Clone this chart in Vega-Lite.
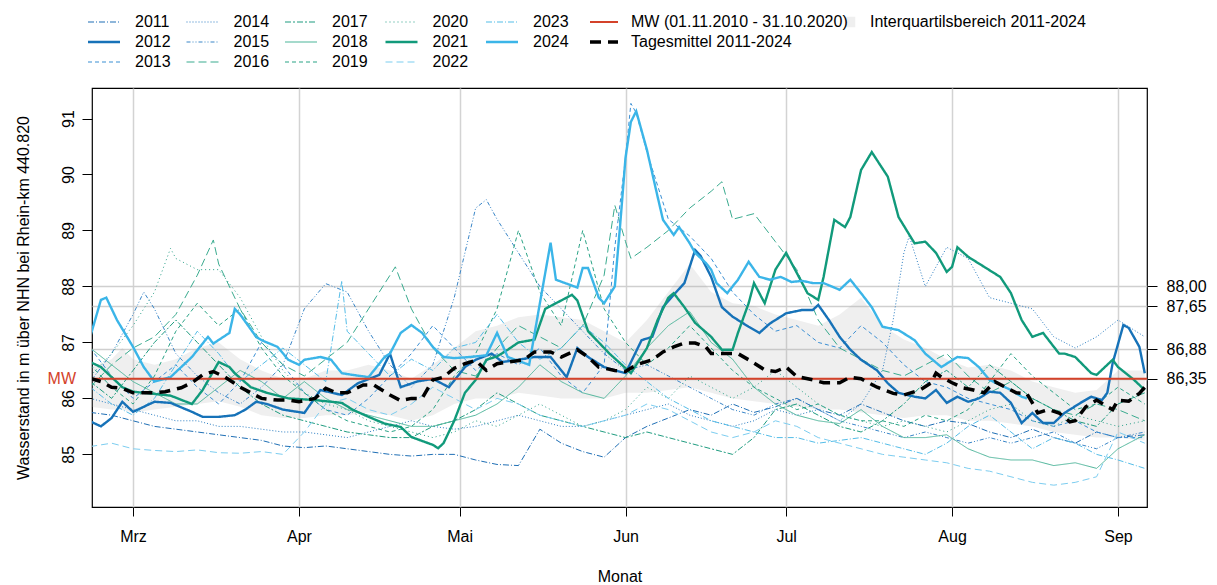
{
"$schema":"https://vega.github.io/schema/vega-lite/v6.json",
"width":1055,"height":419,
"autosize":{"type":"none"},
"padding":{"left":92,"top":88,"right":70,"bottom":78},
"background":"white",
"config":{
 "font":"Liberation Sans",
 "view":{"stroke":"#000","strokeWidth":1.2},
 "axis":{"labelFont":"Liberation Sans","titleFont":"Liberation Sans","labelFontSize":16,"titleFontSize":16,"titleFontWeight":"normal","labelColor":"#000","titleColor":"#000","tickColor":"#000","domain":false,"labelFlush":false},
 "legend":{"labelFont":"Liberation Sans","labelFontSize":16,"labelColor":"#000","padding":0,"labelLimit":400}
},
"datasets":{
"one":[{}],
"thin":[
{"d":"2023-02-21","2011":85.75,"2013":86.9,"2014":86.0,"2015":86.3,"2016":86.2,"2017":86.3,"2018":86.9,"2019":86.6,"2020":86.4,"2022":85.14,"2023":86.2},
{"d":"2023-02-25","2011":85.7,"2013":86.4,"2014":85.9,"2015":86.8,"2016":86.6,"2017":86.0,"2018":86.6,"2019":86.2,"2020":86.8,"2022":85.2,"2023":85.9},
{"d":"2023-03-01","2011":85.6,"2013":86.0,"2014":85.8,"2015":87.5,"2016":86.9,"2017":86.5,"2018":86.3,"2019":85.9,"2020":87.3,"2022":85.1,"2023":85.7},
{"d":"2023-03-03","2015":87.9},
{"d":"2023-03-05","2011":85.5,"2013":86.3,"2014":85.7,"2015":87.6,"2016":87.1,"2017":87.0,"2018":86.1,"2019":86.4,"2020":87.9,"2022":85.07,"2023":86.0},
{"d":"2023-03-08","2020":88.68},
{"d":"2023-03-09","2011":85.45,"2013":86.6,"2014":85.6,"2015":86.8,"2016":87.5,"2017":87.4,"2018":85.9,"2019":87.2,"2020":88.5,"2022":85.05,"2023":86.6},
{"d":"2023-03-13","2011":85.4,"2013":86.2,"2014":85.6,"2015":86.4,"2016":88.2,"2017":87.0,"2018":85.9,"2019":87.7,"2020":88.3,"2022":85.08,"2023":87.2},
{"d":"2023-03-16","2016":88.83},
{"d":"2023-03-17","2011":85.35,"2013":85.9,"2014":85.5,"2015":86.1,"2016":88.4,"2017":86.6,"2018":86.2,"2019":87.3,"2020":88.3,"2022":85.03,"2023":86.8},
{"d":"2023-03-21","2011":85.3,"2013":86.3,"2014":85.5,"2015":85.9,"2016":87.6,"2017":86.2,"2018":86.5,"2019":87.6,"2020":87.8,"2022":85.02,"2023":86.3},
{"d":"2023-03-25","2011":85.25,"2013":87.0,"2014":85.45,"2015":86.2,"2016":87.0,"2017":85.9,"2018":86.3,"2019":86.9,"2020":87.1,"2022":85.05,"2023":86.6},
{"d":"2023-03-29","2011":85.15,"2013":86.6,"2014":85.4,"2015":86.6,"2016":86.6,"2017":85.7,"2018":86.0,"2019":86.4,"2020":86.5,"2022":85.0,"2023":86.9},
{"d":"2023-04-02","2011":85.12,"2013":86.1,"2014":85.4,"2015":87.6,"2016":86.4,"2017":85.6,"2018":86.3,"2019":86.1,"2020":86.1,"2022":85.4,"2023":86.6},
{"d":"2023-04-06","2011":85.15,"2013":85.8,"2014":85.35,"2015":88.05,"2016":86.7,"2017":85.5,"2018":86.0,"2019":85.8,"2020":85.9,"2022":85.9,"2023":86.3},
{"d":"2023-04-09","2023":88.1},
{"d":"2023-04-10","2011":85.1,"2013":85.7,"2014":85.3,"2015":87.9,"2016":87.0,"2017":85.4,"2018":85.8,"2019":85.6,"2020":85.8,"2022":86.0,"2023":87.2},
{"d":"2023-04-14","2011":85.05,"2013":86.0,"2014":85.4,"2015":87.2,"2016":87.6,"2017":85.35,"2018":85.7,"2019":85.5,"2020":85.6,"2022":85.8,"2023":86.8},
{"d":"2023-04-18","2011":85.0,"2013":86.4,"2014":85.5,"2015":86.6,"2016":88.2,"2017":85.3,"2018":85.6,"2019":85.4,"2020":85.5,"2022":85.7,"2023":86.4},
{"d":"2023-04-19","2016":88.35},
{"d":"2023-04-22","2011":84.97,"2013":86.8,"2014":85.6,"2015":86.2,"2016":87.6,"2017":85.3,"2018":85.5,"2019":85.5,"2020":85.4,"2022":85.9,"2023":86.7},
{"d":"2023-04-26","2011":85.0,"2013":87.3,"2014":85.5,"2015":86.6,"2016":86.9,"2017":85.5,"2018":85.5,"2019":85.8,"2020":85.3,"2022":86.2,"2023":86.5},
{"d":"2023-04-30","2011":85.0,"2013":86.9,"2014":85.45,"2015":87.8,"2016":86.5,"2017":85.6,"2018":85.6,"2019":86.4,"2020":85.4,"2022":86.0,"2023":86.9},
{"d":"2023-05-04","2011":84.9,"2013":86.5,"2014":85.5,"2015":89.4,"2016":86.4,"2017":85.8,"2018":85.7,"2019":86.8,"2020":85.6,"2022":85.8,"2023":87.0},
{"d":"2023-05-06","2015":89.55},
{"d":"2023-05-08","2011":84.82,"2013":86.8,"2014":85.6,"2015":89.2,"2016":86.9,"2017":86.1,"2018":85.9,"2019":87.6,"2020":85.5,"2022":86.0,"2023":87.5},
{"d":"2023-05-12","2011":84.8,"2013":86.6,"2014":85.7,"2015":88.6,"2016":87.3,"2017":85.9,"2018":86.2,"2019":89.0,"2020":85.7,"2022":85.9,"2023":87.0},
{"d":"2023-05-16","2011":85.45,"2013":86.9,"2014":85.6,"2015":88.0,"2016":87.1,"2017":85.7,"2018":86.6,"2019":87.9,"2020":85.9,"2022":85.7,"2023":86.7},
{"d":"2023-05-20","2011":85.2,"2013":86.4,"2014":85.5,"2015":87.6,"2016":86.9,"2017":85.6,"2018":86.3,"2019":87.3,"2020":85.7,"2022":85.6,"2023":86.9},
{"d":"2023-05-24","2011":85.05,"2013":86.1,"2014":85.5,"2015":87.2,"2016":87.3,"2017":85.5,"2018":86.1,"2019":89.0,"2020":85.5,"2022":85.5,"2023":87.3},
{"d":"2023-05-28","2011":84.95,"2013":86.6,"2014":85.6,"2015":86.8,"2016":88.2,"2017":85.4,"2018":86.0,"2019":87.6,"2020":85.6,"2022":85.6,"2023":87.0},
{"d":"2023-05-30","2013":88.7,"2016":89.45},
{"d":"2023-06-01","2011":85.3,"2013":90.3,"2014":85.7,"2015":86.5,"2016":88.8,"2017":85.3,"2018":86.4,"2019":87.0,"2020":85.8,"2022":85.7,"2023":86.6},
{"d":"2023-06-02","2013":91.27,"2016":88.5},
{"d":"2023-06-03","2013":91.1},
{"d":"2023-06-05","2011":85.5,"2013":90.4,"2014":85.8,"2015":86.6,"2016":88.7,"2017":85.4,"2018":86.9,"2019":86.6,"2020":86.2,"2022":85.9,"2023":86.3},
{"d":"2023-06-09","2011":85.65,"2013":89.2,"2014":85.9,"2015":86.4,"2016":89.0,"2017":85.3,"2018":87.3,"2019":86.9,"2020":86.0,"2022":85.8,"2023":86.0},
{"d":"2023-06-13","2011":85.8,"2013":88.9,"2014":85.7,"2015":86.2,"2016":89.4,"2017":85.2,"2018":87.55,"2019":87.3,"2020":86.4,"2022":85.6,"2023":85.8},
{"d":"2023-06-17","2011":85.7,"2013":88.5,"2014":85.6,"2015":86.0,"2016":89.7,"2017":85.1,"2018":87.0,"2019":86.9,"2020":86.2,"2022":85.4,"2023":85.6},
{"d":"2023-06-19","2016":89.87},
{"d":"2023-06-21","2011":85.9,"2013":87.9,"2014":85.5,"2015":85.8,"2016":89.2,"2017":85.0,"2018":86.7,"2019":86.5,"2020":86.0,"2022":85.3,"2023":85.5},
{"d":"2023-06-25","2011":85.75,"2013":87.5,"2014":85.6,"2015":85.7,"2016":89.3,"2017":85.3,"2018":86.2,"2019":86.2,"2020":86.2,"2022":85.4,"2023":85.4},
{"d":"2023-06-29","2011":85.85,"2013":87.2,"2014":85.8,"2015":85.9,"2016":88.8,"2017":85.8,"2018":85.9,"2019":86.0,"2020":86.5,"2022":85.6,"2023":85.3},
{"d":"2023-07-03","2011":86.0,"2013":87.3,"2014":85.7,"2015":86.0,"2016":88.3,"2017":85.9,"2018":85.7,"2019":85.8,"2020":86.2,"2022":85.5,"2023":85.3},
{"d":"2023-07-07","2011":85.8,"2013":87.0,"2014":85.8,"2015":85.8,"2016":87.4,"2017":85.7,"2018":85.6,"2019":85.9,"2020":85.9,"2022":85.3,"2023":85.2},
{"d":"2023-07-11","2011":85.7,"2013":86.9,"2014":85.6,"2015":85.6,"2016":86.9,"2017":85.5,"2018":85.55,"2019":85.7,"2020":85.7,"2022":85.2,"2023":85.25},
{"d":"2023-07-15","2011":85.9,"2013":87.3,"2014":85.9,"2015":85.5,"2016":86.7,"2017":85.4,"2018":85.8,"2019":85.6,"2020":85.6,"2022":85.1,"2023":85.3},
{"d":"2023-07-19","2011":85.75,"2013":87.0,"2014":86.5,"2015":85.4,"2016":86.5,"2017":85.6,"2018":85.5,"2019":85.6,"2020":85.5,"2022":85.0,"2023":85.2},
{"d":"2023-07-21","2014":87.4},
{"d":"2023-07-23","2011":85.6,"2013":86.6,"2014":88.6,"2015":85.3,"2016":86.4,"2017":85.9,"2018":85.3,"2019":85.5,"2020":85.6,"2022":84.95,"2023":85.1},
{"d":"2023-07-24","2014":88.9},
{"d":"2023-07-27","2011":85.5,"2013":86.3,"2014":88.0,"2015":85.4,"2016":86.6,"2017":86.3,"2018":85.3,"2019":85.7,"2020":85.5,"2022":84.9,"2023":85.0},
{"d":"2023-07-31","2011":85.6,"2013":86.2,"2014":88.7,"2015":85.3,"2016":86.8,"2017":86.5,"2018":85.35,"2019":85.6,"2020":85.4,"2022":84.85,"2023":85.2},
{"d":"2023-08-04","2011":85.55,"2013":86.0,"2014":88.5,"2015":85.2,"2016":86.4,"2017":86.2,"2018":85.1,"2019":85.8,"2020":85.6,"2022":84.75,"2023":85.5},
{"d":"2023-08-08","2011":85.4,"2013":85.9,"2014":87.8,"2015":85.3,"2016":86.1,"2017":86.6,"2018":84.95,"2019":86.3,"2020":85.8,"2022":84.7,"2023":85.7},
{"d":"2023-08-12","2011":85.3,"2013":85.8,"2014":87.7,"2015":85.2,"2016":86.3,"2017":86.3,"2018":84.9,"2019":86.8,"2020":85.9,"2022":84.6,"2023":85.4},
{"d":"2023-08-16","2011":85.45,"2013":85.6,"2014":87.6,"2015":85.3,"2016":86.0,"2017":86.0,"2018":84.9,"2019":86.4,"2020":85.6,"2022":84.5,"2023":85.1},
{"d":"2023-08-20","2011":85.3,"2013":85.5,"2014":87.1,"2015":85.4,"2016":85.8,"2017":85.8,"2018":84.8,"2019":86.1,"2020":85.5,"2022":84.45,"2023":85.3},
{"d":"2023-08-24","2011":85.2,"2013":85.6,"2014":86.9,"2015":85.2,"2016":85.7,"2017":85.6,"2018":84.85,"2019":85.8,"2020":85.7,"2022":84.5,"2023":85.2},
{"d":"2023-08-28","2011":85.4,"2013":85.4,"2014":87.1,"2015":85.1,"2016":85.9,"2017":85.5,"2018":84.75,"2019":85.9,"2020":85.6,"2022":84.6,"2023":85.0},
{"d":"2023-09-01","2011":85.3,"2013":85.3,"2014":87.4,"2015":85.3,"2016":85.8,"2017":85.9,"2018":85.1,"2019":86.2,"2020":85.5,"2022":85.4,"2023":84.9},
{"d":"2023-09-06","2011":85.35,"2013":85.3,"2014":87.1,"2015":85.4,"2016":85.6,"2017":86.1,"2018":85.35,"2019":85.9,"2020":85.6,"2022":85.2,"2023":84.75}
],
"thick":[
{"d":"2023-02-21","jahr":"2012","v":85.59},{"d":"2023-02-23","jahr":"2012","v":85.5},{"d":"2023-02-25","jahr":"2012","v":85.65},{"d":"2023-02-27","jahr":"2012","v":85.94},{"d":"2023-03-01","jahr":"2012","v":85.76},{"d":"2023-03-03","jahr":"2012","v":85.85},{"d":"2023-03-05","jahr":"2012","v":85.94},{"d":"2023-03-08","jahr":"2012","v":85.92},{"d":"2023-03-12","jahr":"2012","v":85.76},{"d":"2023-03-14","jahr":"2012","v":85.67},{"d":"2023-03-17","jahr":"2012","v":85.67},{"d":"2023-03-20","jahr":"2012","v":85.7},{"d":"2023-03-22","jahr":"2012","v":85.8},{"d":"2023-03-24","jahr":"2012","v":85.94},{"d":"2023-03-26","jahr":"2012","v":85.9},{"d":"2023-03-29","jahr":"2012","v":85.8},{"d":"2023-04-02","jahr":"2012","v":85.74},{"d":"2023-04-05","jahr":"2012","v":86.15},{"d":"2023-04-09","jahr":"2012","v":86.06},{"d":"2023-04-12","jahr":"2012","v":86.27},{"d":"2023-04-16","jahr":"2012","v":86.42},{"d":"2023-04-18","jahr":"2012","v":86.8},{"d":"2023-04-20","jahr":"2012","v":86.2},{"d":"2023-04-23","jahr":"2012","v":86.3},{"d":"2023-04-26","jahr":"2012","v":86.35},{"d":"2023-04-29","jahr":"2012","v":86.2},{"d":"2023-05-02","jahr":"2012","v":86.56},{"d":"2023-05-04","jahr":"2012","v":86.69},{"d":"2023-05-07","jahr":"2012","v":86.8},{"d":"2023-05-09","jahr":"2012","v":86.65},{"d":"2023-05-12","jahr":"2012","v":86.69},{"d":"2023-05-15","jahr":"2012","v":86.74},{"d":"2023-05-18","jahr":"2012","v":86.74},{"d":"2023-05-21","jahr":"2012","v":86.38},{"d":"2023-05-23","jahr":"2012","v":86.9},{"d":"2023-05-25","jahr":"2012","v":86.74},{"d":"2023-05-28","jahr":"2012","v":86.56},{"d":"2023-05-30","jahr":"2012","v":86.5},{"d":"2023-06-01","jahr":"2012","v":86.45},{"d":"2023-06-04","jahr":"2012","v":87.04},{"d":"2023-06-06","jahr":"2012","v":87.1},{"d":"2023-06-08","jahr":"2012","v":87.63},{"d":"2023-06-10","jahr":"2012","v":87.85},{"d":"2023-06-12","jahr":"2012","v":88.06},{"d":"2023-06-14","jahr":"2012","v":88.65},{"d":"2023-06-15","jahr":"2012","v":88.55},{"d":"2023-06-17","jahr":"2012","v":88.17},{"d":"2023-06-19","jahr":"2012","v":87.63},{"d":"2023-06-21","jahr":"2012","v":87.46},{"d":"2023-06-24","jahr":"2012","v":87.28},{"d":"2023-06-26","jahr":"2012","v":87.17},{"d":"2023-06-28","jahr":"2012","v":87.34},{"d":"2023-07-01","jahr":"2012","v":87.52},{"d":"2023-07-04","jahr":"2012","v":87.58},{"d":"2023-07-06","jahr":"2012","v":87.58},{"d":"2023-07-07","jahr":"2012","v":87.67},{"d":"2023-07-09","jahr":"2012","v":87.4},{"d":"2023-07-11","jahr":"2012","v":87.1},{"d":"2023-07-13","jahr":"2012","v":86.87},{"d":"2023-07-15","jahr":"2012","v":86.69},{"d":"2023-07-18","jahr":"2012","v":86.5},{"d":"2023-07-20","jahr":"2012","v":86.27},{"d":"2023-07-22","jahr":"2012","v":86.1},{"d":"2023-07-25","jahr":"2012","v":86.03},{"d":"2023-07-27","jahr":"2012","v":86.0},{"d":"2023-07-29","jahr":"2012","v":86.15},{"d":"2023-07-31","jahr":"2012","v":85.92},{"d":"2023-08-02","jahr":"2012","v":86.03},{"d":"2023-08-04","jahr":"2012","v":85.94},{"d":"2023-08-06","jahr":"2012","v":86.0},{"d":"2023-08-08","jahr":"2012","v":86.12},{"d":"2023-08-10","jahr":"2012","v":86.1},{"d":"2023-08-12","jahr":"2012","v":85.92},{"d":"2023-08-14","jahr":"2012","v":85.56},{"d":"2023-08-16","jahr":"2012","v":85.74},{"d":"2023-08-18","jahr":"2012","v":85.56},{"d":"2023-08-20","jahr":"2012","v":85.56},{"d":"2023-08-22","jahr":"2012","v":85.74},{"d":"2023-08-25","jahr":"2012","v":85.92},{"d":"2023-08-27","jahr":"2012","v":86.03},{"d":"2023-08-29","jahr":"2012","v":85.97},{"d":"2023-08-30","jahr":"2012","v":86.1},{"d":"2023-08-31","jahr":"2012","v":86.63},{"d":"2023-09-02","jahr":"2012","v":87.31},{"d":"2023-09-03","jahr":"2012","v":87.26},{"d":"2023-09-05","jahr":"2012","v":86.92},{"d":"2023-09-06","jahr":"2012","v":86.45},
{"d":"2023-02-21","jahr":"2021","v":86.65},{"d":"2023-02-23","jahr":"2021","v":86.56},{"d":"2023-02-25","jahr":"2021","v":86.38},{"d":"2023-02-27","jahr":"2021","v":86.2},{"d":"2023-03-01","jahr":"2021","v":86.12},{"d":"2023-03-03","jahr":"2021","v":86.1},{"d":"2023-03-05","jahr":"2021","v":86.08},{"d":"2023-03-08","jahr":"2021","v":86.05},{"d":"2023-03-12","jahr":"2021","v":85.9},{"d":"2023-03-14","jahr":"2021","v":86.15},{"d":"2023-03-17","jahr":"2021","v":86.65},{"d":"2023-03-19","jahr":"2021","v":86.56},{"d":"2023-03-20","jahr":"2021","v":86.45},{"d":"2023-03-23","jahr":"2021","v":86.2},{"d":"2023-03-26","jahr":"2021","v":86.1},{"d":"2023-03-30","jahr":"2021","v":86.0},{"d":"2023-04-04","jahr":"2021","v":85.97},{"d":"2023-04-09","jahr":"2021","v":85.92},{"d":"2023-04-11","jahr":"2021","v":85.8},{"d":"2023-04-14","jahr":"2021","v":85.67},{"d":"2023-04-17","jahr":"2021","v":85.55},{"d":"2023-04-20","jahr":"2021","v":85.49},{"d":"2023-04-22","jahr":"2021","v":85.31},{"d":"2023-04-26","jahr":"2021","v":85.17},{"d":"2023-04-27","jahr":"2021","v":85.11},{"d":"2023-04-28","jahr":"2021","v":85.2},{"d":"2023-04-30","jahr":"2021","v":85.6},{"d":"2023-05-02","jahr":"2021","v":86.1},{"d":"2023-05-04","jahr":"2021","v":86.33},{"d":"2023-05-06","jahr":"2021","v":86.69},{"d":"2023-05-08","jahr":"2021","v":86.75},{"d":"2023-05-10","jahr":"2021","v":86.87},{"d":"2023-05-12","jahr":"2021","v":87.0},{"d":"2023-05-15","jahr":"2021","v":87.05},{"d":"2023-05-17","jahr":"2021","v":87.6},{"d":"2023-05-19","jahr":"2021","v":87.7},{"d":"2023-05-22","jahr":"2021","v":87.85},{"d":"2023-05-23","jahr":"2021","v":87.75},{"d":"2023-05-25","jahr":"2021","v":87.2},{"d":"2023-05-29","jahr":"2021","v":86.8},{"d":"2023-06-01","jahr":"2021","v":86.54},{"d":"2023-06-02","jahr":"2021","v":86.45},{"d":"2023-06-05","jahr":"2021","v":86.9},{"d":"2023-06-07","jahr":"2021","v":87.4},{"d":"2023-06-09","jahr":"2021","v":87.8},{"d":"2023-06-10","jahr":"2021","v":87.88},{"d":"2023-06-12","jahr":"2021","v":87.63},{"d":"2023-06-14","jahr":"2021","v":87.35},{"d":"2023-06-17","jahr":"2021","v":87.1},{"d":"2023-06-19","jahr":"2021","v":86.87},{"d":"2023-06-21","jahr":"2021","v":86.87},{"d":"2023-06-22","jahr":"2021","v":87.17},{"d":"2023-06-24","jahr":"2021","v":87.7},{"d":"2023-06-25","jahr":"2021","v":88.06},{"d":"2023-06-27","jahr":"2021","v":87.7},{"d":"2023-06-29","jahr":"2021","v":88.3},{"d":"2023-07-01","jahr":"2021","v":88.6},{"d":"2023-07-03","jahr":"2021","v":88.24},{"d":"2023-07-05","jahr":"2021","v":87.88},{"d":"2023-07-07","jahr":"2021","v":87.76},{"d":"2023-07-08","jahr":"2021","v":88.17},{"d":"2023-07-10","jahr":"2021","v":89.19},{"d":"2023-07-12","jahr":"2021","v":89.06},{"d":"2023-07-13","jahr":"2021","v":89.24},{"d":"2023-07-15","jahr":"2021","v":90.08},{"d":"2023-07-17","jahr":"2021","v":90.4},{"d":"2023-07-20","jahr":"2021","v":89.96},{"d":"2023-07-22","jahr":"2021","v":89.24},{"d":"2023-07-25","jahr":"2021","v":88.77},{"d":"2023-07-27","jahr":"2021","v":88.8},{"d":"2023-07-29","jahr":"2021","v":88.6},{"d":"2023-07-31","jahr":"2021","v":88.26},{"d":"2023-08-01","jahr":"2021","v":88.35},{"d":"2023-08-02","jahr":"2021","v":88.7},{"d":"2023-08-04","jahr":"2021","v":88.53},{"d":"2023-08-07","jahr":"2021","v":88.35},{"d":"2023-08-10","jahr":"2021","v":88.17},{"d":"2023-08-12","jahr":"2021","v":87.88},{"d":"2023-08-14","jahr":"2021","v":87.4},{"d":"2023-08-16","jahr":"2021","v":87.1},{"d":"2023-08-18","jahr":"2021","v":87.17},{"d":"2023-08-21","jahr":"2021","v":86.8},{"d":"2023-08-22","jahr":"2021","v":86.8},{"d":"2023-08-24","jahr":"2021","v":86.74},{"d":"2023-08-27","jahr":"2021","v":86.45},{"d":"2023-08-28","jahr":"2021","v":86.42},{"d":"2023-08-31","jahr":"2021","v":86.69},{"d":"2023-09-01","jahr":"2021","v":86.56},{"d":"2023-09-04","jahr":"2021","v":86.33},{"d":"2023-09-06","jahr":"2021","v":86.15},
{"d":"2023-02-21","jahr":"2024","v":87.1},{"d":"2023-02-23","jahr":"2024","v":87.76},{"d":"2023-02-24","jahr":"2024","v":87.8},{"d":"2023-02-26","jahr":"2024","v":87.4},{"d":"2023-03-01","jahr":"2024","v":86.92},{"d":"2023-03-03","jahr":"2024","v":86.56},{"d":"2023-03-05","jahr":"2024","v":86.3},{"d":"2023-03-08","jahr":"2024","v":86.38},{"d":"2023-03-12","jahr":"2024","v":86.74},{"d":"2023-03-15","jahr":"2024","v":87.1},{"d":"2023-03-16","jahr":"2024","v":86.98},{"d":"2023-03-19","jahr":"2024","v":87.17},{"d":"2023-03-20","jahr":"2024","v":87.6},{"d":"2023-03-21","jahr":"2024","v":87.5},{"d":"2023-03-24","jahr":"2024","v":87.1},{"d":"2023-03-25","jahr":"2024","v":87.04},{"d":"2023-03-28","jahr":"2024","v":86.92},{"d":"2023-03-30","jahr":"2024","v":86.69},{"d":"2023-04-01","jahr":"2024","v":86.6},{"d":"2023-04-02","jahr":"2024","v":86.69},{"d":"2023-04-05","jahr":"2024","v":86.74},{"d":"2023-04-07","jahr":"2024","v":86.69},{"d":"2023-04-09","jahr":"2024","v":86.45},{"d":"2023-04-11","jahr":"2024","v":86.42},{"d":"2023-04-14","jahr":"2024","v":86.38},{"d":"2023-04-15","jahr":"2024","v":86.5},{"d":"2023-04-17","jahr":"2024","v":86.74},{"d":"2023-04-18","jahr":"2024","v":86.8},{"d":"2023-04-20","jahr":"2024","v":87.17},{"d":"2023-04-22","jahr":"2024","v":87.31},{"d":"2023-04-24","jahr":"2024","v":87.17},{"d":"2023-04-26","jahr":"2024","v":86.92},{"d":"2023-04-28","jahr":"2024","v":86.74},{"d":"2023-04-30","jahr":"2024","v":86.72},{"d":"2023-05-03","jahr":"2024","v":86.74},{"d":"2023-05-06","jahr":"2024","v":86.77},{"d":"2023-05-08","jahr":"2024","v":87.17},{"d":"2023-05-10","jahr":"2024","v":86.74},{"d":"2023-05-14","jahr":"2024","v":86.6},{"d":"2023-05-16","jahr":"2024","v":87.7},{"d":"2023-05-18","jahr":"2024","v":88.78},{"d":"2023-05-19","jahr":"2024","v":88.12},{"d":"2023-05-21","jahr":"2024","v":88.05},{"d":"2023-05-23","jahr":"2024","v":87.98},{"d":"2023-05-24","jahr":"2024","v":88.33},{"d":"2023-05-25","jahr":"2024","v":88.33},{"d":"2023-05-27","jahr":"2024","v":87.8},{"d":"2023-05-28","jahr":"2024","v":87.7},{"d":"2023-05-30","jahr":"2024","v":88.0},{"d":"2023-05-31","jahr":"2024","v":89.1},{"d":"2023-06-01","jahr":"2024","v":90.3},{"d":"2023-06-02","jahr":"2024","v":90.94},{"d":"2023-06-03","jahr":"2024","v":91.13},{"d":"2023-06-05","jahr":"2024","v":90.44},{"d":"2023-06-07","jahr":"2024","v":89.6},{"d":"2023-06-08","jahr":"2024","v":89.19},{"d":"2023-06-10","jahr":"2024","v":88.92},{"d":"2023-06-11","jahr":"2024","v":89.06},{"d":"2023-06-13","jahr":"2024","v":88.77},{"d":"2023-06-14","jahr":"2024","v":88.6},{"d":"2023-06-16","jahr":"2024","v":88.42},{"d":"2023-06-17","jahr":"2024","v":88.3},{"d":"2023-06-18","jahr":"2024","v":88.06},{"d":"2023-06-20","jahr":"2024","v":87.88},{"d":"2023-06-22","jahr":"2024","v":88.12},{"d":"2023-06-24","jahr":"2024","v":88.44},{"d":"2023-06-26","jahr":"2024","v":88.17},{"d":"2023-06-28","jahr":"2024","v":88.12},{"d":"2023-06-30","jahr":"2024","v":88.17},{"d":"2023-07-02","jahr":"2024","v":88.08},{"d":"2023-07-04","jahr":"2024","v":88.1},{"d":"2023-07-06","jahr":"2024","v":88.06},{"d":"2023-07-08","jahr":"2024","v":88.06},{"d":"2023-07-11","jahr":"2024","v":87.94},{"d":"2023-07-13","jahr":"2024","v":88.12},{"d":"2023-07-15","jahr":"2024","v":87.88},{"d":"2023-07-17","jahr":"2024","v":87.63},{"d":"2023-07-19","jahr":"2024","v":87.28},{"d":"2023-07-22","jahr":"2024","v":87.22},{"d":"2023-07-25","jahr":"2024","v":87.04},{"d":"2023-07-27","jahr":"2024","v":86.8},{"d":"2023-07-30","jahr":"2024","v":86.56},{"d":"2023-08-02","jahr":"2024","v":86.74},{"d":"2023-08-04","jahr":"2024","v":86.72},{"d":"2023-08-06","jahr":"2024","v":86.56},{"d":"2023-08-08","jahr":"2024","v":86.33},{"d":"2023-08-10","jahr":"2024","v":86.24},{"d":"2023-08-12","jahr":"2024","v":86.15},{"d":"2023-08-14","jahr":"2024","v":86.03},{"d":"2023-08-15","jahr":"2024","v":86.0}
],
"iqr":[
{"d":"2023-02-21","lo":85.85,"hi":86.55},{"d":"2023-02-25","lo":85.8,"hi":86.7},{"d":"2023-02-27","lo":85.8,"hi":86.9},{"d":"2023-03-01","lo":85.75,"hi":86.7},{"d":"2023-03-05","lo":85.8,"hi":86.6},{"d":"2023-03-09","lo":85.85,"hi":86.7},{"d":"2023-03-13","lo":85.9,"hi":86.9},{"d":"2023-03-17","lo":85.95,"hi":87.0},{"d":"2023-03-21","lo":85.85,"hi":86.7},{"d":"2023-03-25","lo":85.7,"hi":86.5},{"d":"2023-03-29","lo":85.65,"hi":86.35},{"d":"2023-04-02","lo":85.65,"hi":86.35},{"d":"2023-04-06","lo":85.7,"hi":86.5},{"d":"2023-04-10","lo":85.7,"hi":86.5},{"d":"2023-04-14","lo":85.75,"hi":86.6},{"d":"2023-04-18","lo":85.7,"hi":86.5},{"d":"2023-04-22","lo":85.6,"hi":86.35},{"d":"2023-04-26","lo":85.7,"hi":86.6},{"d":"2023-04-30","lo":85.9,"hi":86.9},{"d":"2023-05-04","lo":86.0,"hi":87.2},{"d":"2023-05-08","lo":86.0,"hi":87.3},{"d":"2023-05-12","lo":86.1,"hi":87.45},{"d":"2023-05-16","lo":86.05,"hi":87.5},{"d":"2023-05-20","lo":86.0,"hi":87.45},{"d":"2023-05-24","lo":86.0,"hi":87.4},{"d":"2023-05-28","lo":86.0,"hi":87.2},{"d":"2023-06-01","lo":86.1,"hi":87.0},{"d":"2023-06-05","lo":86.1,"hi":87.4},{"d":"2023-06-09","lo":86.15,"hi":87.9},{"d":"2023-06-13","lo":86.2,"hi":88.4},{"d":"2023-06-17","lo":86.1,"hi":87.9},{"d":"2023-06-21","lo":86.0,"hi":87.7},{"d":"2023-06-25","lo":85.95,"hi":87.65},{"d":"2023-06-29","lo":85.9,"hi":87.5},{"d":"2023-07-03","lo":85.85,"hi":87.4},{"d":"2023-07-07","lo":85.8,"hi":87.3},{"d":"2023-07-11","lo":85.8,"hi":87.5},{"d":"2023-07-15","lo":85.75,"hi":87.8},{"d":"2023-07-19","lo":85.7,"hi":87.3},{"d":"2023-07-23","lo":85.65,"hi":87.05},{"d":"2023-07-27","lo":85.7,"hi":86.9},{"d":"2023-07-31","lo":85.7,"hi":86.7},{"d":"2023-08-04","lo":85.6,"hi":86.55},{"d":"2023-08-08","lo":85.6,"hi":86.6},{"d":"2023-08-12","lo":85.55,"hi":86.5},{"d":"2023-08-16","lo":85.5,"hi":86.3},{"d":"2023-08-20","lo":85.4,"hi":86.2},{"d":"2023-08-24","lo":85.35,"hi":86.1},{"d":"2023-08-28","lo":85.3,"hi":86.15},{"d":"2023-09-01","lo":85.3,"hi":86.5},{"d":"2023-09-06","lo":85.25,"hi":86.5}
],
"mittel":[
{"d":"2023-02-21","m":86.36},{"d":"2023-02-23","m":86.3},{"d":"2023-02-25","m":86.2},{"d":"2023-02-27","m":86.18},{"d":"2023-03-01","m":86.1},{"d":"2023-03-03","m":86.1},{"d":"2023-03-05","m":86.1},{"d":"2023-03-07","m":86.12},{"d":"2023-03-10","m":86.19},{"d":"2023-03-12","m":86.28},{"d":"2023-03-14","m":86.42},{"d":"2023-03-16","m":86.48},{"d":"2023-03-18","m":86.39},{"d":"2023-03-19","m":86.33},{"d":"2023-03-21","m":86.2},{"d":"2023-03-23","m":86.1},{"d":"2023-03-25","m":86.0},{"d":"2023-03-28","m":85.97},{"d":"2023-03-30","m":85.97},{"d":"2023-04-01","m":85.94},{"d":"2023-04-04","m":86.0},{"d":"2023-04-06","m":86.18},{"d":"2023-04-08","m":86.1},{"d":"2023-04-10","m":86.1},{"d":"2023-04-13","m":86.24},{"d":"2023-04-15","m":86.24},{"d":"2023-04-17","m":86.12},{"d":"2023-04-18","m":86.06},{"d":"2023-04-20","m":85.96},{"d":"2023-04-22","m":86.0},{"d":"2023-04-24","m":86.0},{"d":"2023-04-26","m":86.33},{"d":"2023-04-28","m":86.38},{"d":"2023-04-30","m":86.54},{"d":"2023-05-02","m":86.62},{"d":"2023-05-04","m":86.68},{"d":"2023-05-06","m":86.5},{"d":"2023-05-08","m":86.62},{"d":"2023-05-10","m":86.65},{"d":"2023-05-13","m":86.69},{"d":"2023-05-15","m":86.83},{"d":"2023-05-18","m":86.83},{"d":"2023-05-20","m":86.74},{"d":"2023-05-23","m":86.87},{"d":"2023-05-25","m":86.74},{"d":"2023-05-27","m":86.56},{"d":"2023-05-30","m":86.5},{"d":"2023-06-01","m":86.48},{"d":"2023-06-03","m":86.6},{"d":"2023-06-06","m":86.69},{"d":"2023-06-08","m":86.83},{"d":"2023-06-10","m":86.92},{"d":"2023-06-12","m":86.99},{"d":"2023-06-14","m":86.99},{"d":"2023-06-16","m":86.92},{"d":"2023-06-17","m":86.8},{"d":"2023-06-19","m":86.8},{"d":"2023-06-22","m":86.8},{"d":"2023-06-24","m":86.69},{"d":"2023-06-27","m":86.51},{"d":"2023-06-29","m":86.48},{"d":"2023-07-01","m":86.56},{"d":"2023-07-03","m":86.39},{"d":"2023-07-06","m":86.33},{"d":"2023-07-08","m":86.28},{"d":"2023-07-11","m":86.28},{"d":"2023-07-13","m":86.38},{"d":"2023-07-15","m":86.35},{"d":"2023-07-18","m":86.2},{"d":"2023-07-21","m":86.09},{"d":"2023-07-23","m":86.06},{"d":"2023-07-26","m":86.15},{"d":"2023-07-28","m":86.27},{"d":"2023-07-29","m":86.45},{"d":"2023-07-30","m":86.38},{"d":"2023-08-01","m":86.28},{"d":"2023-08-03","m":86.19},{"d":"2023-08-05","m":86.15},{"d":"2023-08-07","m":86.1},{"d":"2023-08-09","m":86.3},{"d":"2023-08-11","m":86.2},{"d":"2023-08-13","m":86.1},{"d":"2023-08-15","m":86.08},{"d":"2023-08-16","m":85.92},{"d":"2023-08-17","m":85.74},{"d":"2023-08-19","m":85.8},{"d":"2023-08-21","m":85.74},{"d":"2023-08-23","m":85.58},{"d":"2023-08-24","m":85.6},{"d":"2023-08-26","m":85.85},{"d":"2023-08-28","m":85.97},{"d":"2023-08-30","m":85.85},{"d":"2023-08-31","m":85.8},{"d":"2023-09-01","m":85.97},{"d":"2023-09-03","m":85.95},{"d":"2023-09-05","m":86.09},{"d":"2023-09-06","m":86.2}
]
},
"layer":[
{
 "data":{"name":"iqr"},
 "mark":{"type":"area","clip":true,"opacity":0.2},
 "encoding":{
  "x":{"field":"d","type":"temporal","scale":{"type":"utc","domain":[{"year":2023,"month":2,"date":21,"hours":8,"utc":true},{"year":2023,"month":9,"date":6,"hours":10,"utc":true}]},
   "axis":{"values":[{"year":2023,"month":3,"date":1,"utc":true},{"year":2023,"month":4,"date":1,"utc":true},{"year":2023,"month":5,"date":1,"utc":true},{"year":2023,"month":6,"date":1,"utc":true},{"year":2023,"month":7,"date":1,"utc":true},{"year":2023,"month":8,"date":1,"utc":true},{"year":2023,"month":9,"date":1,"utc":true}],
    "labelExpr":"['Jan','Feb','Mrz','Apr','Mai','Jun','Jul','Aug','Sep','Okt','Nov','Dez'][utcmonth(datum.value)]",
    "grid":true,"gridColor":"#d3d3d3","gridWidth":1.5,"tickSize":9,"labelPadding":12,"title":"Monat","titlePadding":24}},
  "y":{"field":"hi","type":"quantitative","scale":{"domain":[84.06,91.545],"nice":false,"zero":false},
   "axis":{"orient":"left","values":[85,86,87,88,89,90,91],"format":"d","grid":false,
    "labelAngle":-90,"labelAlign":"center","labelBaseline":"bottom",
    "tickSize":10,"labelPadding":6,"title":"Wasserstand in m über NHN bei Rhein-km 440.820","titlePadding":29}},
  "y2":{"field":"lo"},
  "fill":{"datum":"Interquartilsbereich 2011-2024","type":"nominal","scale":{"range":["#b0b0b0"]},
   "legend":{"title":null,"orient":"none","legendX":750,"legendY":-74,"symbolType":"square","symbolSize":110,"labelOffset":12,
    "encode":{"symbols":{"update":{"fill":{"value":"#e8e8e8"},"opacity":{"value":1},"fillOpacity":{"value":1},"strokeWidth":{"value":0}}}}}}
 }
},
{
 "layer":[
  {
   "data":{"name":"thin"},
   "transform":[{"fold":["2011","2013","2014","2015","2016","2017","2018","2019","2020","2022","2023"],"as":["jahr","v"]},{"filter":"isValid(datum.v)"}],
   "mark":{"type":"line","strokeWidth":1,"clip":true},
   "encoding":{
    "x":{"field":"d","type":"temporal"},
    "y":{"field":"v","type":"quantitative","scale":{"domain":[84.06,91.545],"nice":false,"zero":false},"axis":null},
    "color":{"field":"jahr","type":"nominal",
     "scale":{"domain":["2011","2012","2013","2014","2015","2016","2017","2018","2019","2020","2021","2022","2023","2024"],
      "range":["#1f6fb5","#1672b8","#3b8fd4","#2c7ec2","#3a86c8","#3aab8f","#1f9c80","#4db59a","#2aa386","#29a088","#119a7b","#7ccdf0","#55bde8","#3bb5e8"]},
     "legend":{"title":null,"orient":"none","legendX":4,"legendY":-74,"columns":5,"symbolType":"stroke","symbolSize":1024,"labelOffset":23,"columnPadding":12.5,"rowPadding":4,
      "encode":{"symbols":{"update":{"strokeWidth":{"signal":"indexof(['2012','2021','2024'], datum.value) >= 0 ? 2.5 : 1.2"}}}}}},
    "strokeDash":{"field":"jahr","type":"nominal",
     "scale":{"domain":["2011","2012","2013","2014","2015","2016","2017","2018","2019","2020","2021","2022","2023","2024"],
      "range":[[6,2,1,2],[1,0],[4,3],[1,2],[4,2,1,2,1,2],[8,4],[6,2,2,2],[1,0],[4,3],[1,3],[1,0],[7,4],[6,2,1,2],[1,0]]},
     "legend":{"title":null,"orient":"none","legendX":4,"legendY":-74,"columns":5,"symbolType":"stroke","symbolSize":1024,"labelOffset":23,"columnPadding":12.5,"rowPadding":4,
      "encode":{"symbols":{"update":{"strokeWidth":{"signal":"indexof(['2012','2021','2024'], datum.value) >= 0 ? 2.5 : 1.2"}}}}}}
   }
  },
  {
   "data":{"name":"thick"},
   "mark":{"type":"line","strokeWidth":2.4,"clip":true},
   "encoding":{
    "x":{"field":"d","type":"temporal"},
    "y":{"field":"v","type":"quantitative","scale":{"domain":[84.06,91.545],"nice":false,"zero":false},"axis":null},
    "color":{"field":"jahr","type":"nominal",
     "scale":{"domain":["2011","2012","2013","2014","2015","2016","2017","2018","2019","2020","2021","2022","2023","2024"],
      "range":["#1f6fb5","#1672b8","#3b8fd4","#2c7ec2","#3a86c8","#3aab8f","#1f9c80","#4db59a","#2aa386","#29a088","#119a7b","#7ccdf0","#55bde8","#3bb5e8"]},
     "legend":{"title":null,"orient":"none","legendX":4,"legendY":-74,"columns":5,"symbolType":"stroke","symbolSize":1024,"labelOffset":23,"columnPadding":12.5,"rowPadding":4,
      "encode":{"symbols":{"update":{"strokeWidth":{"signal":"indexof(['2012','2021','2024'], datum.value) >= 0 ? 2.5 : 1.2"}}}}}},
    "strokeDash":{"field":"jahr","type":"nominal",
     "scale":{"domain":["2011","2012","2013","2014","2015","2016","2017","2018","2019","2020","2021","2022","2023","2024"],
      "range":[[6,2,1,2],[1,0],[4,3],[1,2],[4,2,1,2,1,2],[8,4],[6,2,2,2],[1,0],[4,3],[1,3],[1,0],[7,4],[6,2,1,2],[1,0]]},
     "legend":{"title":null,"orient":"none","legendX":4,"legendY":-74,"columns":5,"symbolType":"stroke","symbolSize":1024,"labelOffset":23,"columnPadding":12.5,"rowPadding":4,
      "encode":{"symbols":{"update":{"strokeWidth":{"signal":"indexof(['2012','2021','2024'], datum.value) >= 0 ? 2.5 : 1.2"}}}}}}
   }
  }
 ]
},
{
 "layer":[
  {
   "data":{"name":"one"},
   "mark":{"type":"rule","strokeWidth":2},
   "encoding":{
    "y":{"datum":86.35,"type":"quantitative","scale":{"domain":[84.06,91.545],"nice":false,"zero":false}},
    "color":{"datum":"MW (01.11.2010 - 31.10.2020)","type":"nominal","scale":{"domain":["MW (01.11.2010 - 31.10.2020)","Tagesmittel 2011-2024"],"range":["#d4422a","#000000"]},
     "legend":{"title":null,"orient":"none","legendX":504,"legendY":-74,"direction":"vertical","symbolType":"stroke","symbolSize":784,"labelOffset":19,"rowPadding":4,
      "encode":{"symbols":{"update":{"strokeWidth":{"signal":"datum.value == 'Tagesmittel 2011-2024' ? 3.5 : 2"}}}}}},
    "strokeDash":{"datum":"MW (01.11.2010 - 31.10.2020)","type":"nominal","scale":{"domain":["MW (01.11.2010 - 31.10.2020)","Tagesmittel 2011-2024"],"range":[[1,0],[11,7]]},
     "legend":{"title":null,"orient":"none","legendX":504,"legendY":-74,"direction":"vertical","symbolType":"stroke","symbolSize":784,"labelOffset":19,"rowPadding":4,
      "encode":{"symbols":{"update":{"strokeWidth":{"signal":"datum.value == 'Tagesmittel 2011-2024' ? 3.5 : 2"}}}}}}
   }
  },
  {
   "data":{"name":"mittel"},
   "mark":{"type":"line","strokeWidth":3.5,"clip":true},
   "encoding":{
    "x":{"field":"d","type":"temporal"},
    "y":{"field":"m","type":"quantitative","scale":{"domain":[84.06,91.545],"nice":false,"zero":false},
     "axis":{"orient":"right","values":[86.35,86.88,87.65,88],"labelExpr":"replace(format(datum.value, '.2f'), '.', ',')","grid":true,"gridColor":"#cfcfcf","gridWidth":1.5,"tickSize":10,"labelPadding":9,"title":null}},
    "color":{"datum":"Tagesmittel 2011-2024","type":"nominal","scale":{"domain":["MW (01.11.2010 - 31.10.2020)","Tagesmittel 2011-2024"],"range":["#d4422a","#000000"]},
     "legend":{"title":null,"orient":"none","legendX":504,"legendY":-74,"direction":"vertical","symbolType":"stroke","symbolSize":784,"labelOffset":19,"rowPadding":4,
      "encode":{"symbols":{"update":{"strokeWidth":{"signal":"datum.value == 'Tagesmittel 2011-2024' ? 3.5 : 2"}}}}}},
    "strokeDash":{"datum":"Tagesmittel 2011-2024","type":"nominal","scale":{"domain":["MW (01.11.2010 - 31.10.2020)","Tagesmittel 2011-2024"],"range":[[1,0],[11,7]]},
     "legend":{"title":null,"orient":"none","legendX":504,"legendY":-74,"direction":"vertical","symbolType":"stroke","symbolSize":784,"labelOffset":19,"rowPadding":4,
      "encode":{"symbols":{"update":{"strokeWidth":{"signal":"datum.value == 'Tagesmittel 2011-2024' ? 3.5 : 2"}}}}}}
   }
  }
 ]
},
{
 "data":{"name":"one"},
 "mark":{"type":"text","text":"MW","align":"right","baseline":"middle","dx":-16,"color":"#d4422a","font":"Liberation Sans","fontSize":16},
 "encoding":{
  "x":{"datum":{"year":2023,"month":2,"date":21,"hours":8,"utc":true},"type":"temporal"},
  "y":{"datum":86.35,"type":"quantitative","scale":{"domain":[84.06,91.545],"nice":false,"zero":false},"axis":null}
 }
}
],
"resolve":{"scale":{"color":"independent","strokeDash":"independent"},"axis":{"y":"independent"}}
}
